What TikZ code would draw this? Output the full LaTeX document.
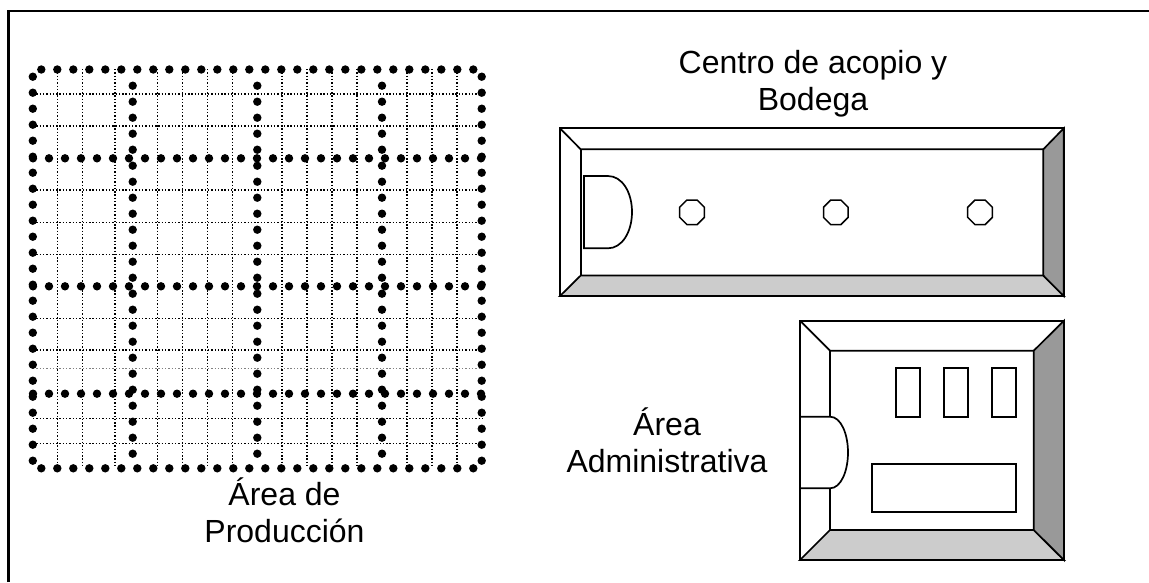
\documentclass[tikz,border=0pt]{standalone}
\usepackage{fontspec}
\setmainfont{Liberation Sans}
\usetikzlibrary{shapes.geometric}
\definecolor{floorlight}{HTML}{CCCCCC}
\definecolor{floordark}{HTML}{999999}
\tikzset{
  wall/.style={draw=black, line width=1.7pt, line join=miter},
  gridline/.style={draw=black, line width=1.4pt, dash pattern=on 1.4pt off 1.9pt},
  fence/.style={fill=black},
  machine/.style={regular polygon, regular polygon sides=8, draw=black, line width=1.5pt, minimum size=26.6pt, inner sep=0pt, fill=white},
  areatext/.style={align=center, font=\fontsize{32}{37}\selectfont, inner sep=0pt}
}
\begin{document}
\begin{tikzpicture}[x=1pt, y=-1pt]
  \useasboundingbox (0,0) rectangle (1149,582);

  % frame
  \draw[line width=2.6pt] (8.7,582) -- (8.7,10);
  \draw[line width=1.7pt] (7.4,11) -- (1149,11);

  % production area
  \foreach \x in {57.7,82.7,115,157.7,182.7,207.3,232.3,282,307,332,357,407,432,457}
    \draw[gridline] (\x,69) -- (\x,468);
  \foreach \y in {94,126,190,222.5,254.3,318.3,350,418.3,443.5}
    \draw[gridline] (33,\y) -- (482,\y);
  \draw[gridline, draw=gray, line width=1pt] (33,368.5) -- (482,368.5);

  \foreach \k in {0,...,27} {
    \fill[fence] (41.3+16*\k,69.5) circle (4.2pt);
    \fill[fence] (41.3+16*\k,468.3) circle (4.2pt);
  }
  \foreach \k in {0,...,24} {
    \fill[fence] (32.8,76.7+16*\k) circle (4.2pt);
    \fill[fence] (481.7,76.7+16*\k) circle (4.2pt);
  }
  \foreach \y in {158.3,286.3,393.7}
    \foreach \k in {0,...,28}
      \fill[fence] (33+16*\k,\y) circle (4.2pt);
  \foreach \x in {132.7,257.3,382}
    \foreach \k in {0,...,23}
      \fill[fence] (\x,85.7+16*\k) circle (4.2pt);

  \node[areatext] (produccion) at (284.5,510) {Área de\\Producción};

  % warehouse
  \coordinate (b-nw) at (560,128.3);
  \coordinate (b-ne) at (1063.7,128.3);
  \coordinate (b-se) at (1063.7,296);
  \coordinate (b-sw) at (560,296);
  \coordinate (bi-nw) at (580.7,149.3);
  \coordinate (bi-ne) at (1043.3,149.3);
  \coordinate (bi-se) at (1043.3,275.5);
  \coordinate (bi-sw) at (580.7,275.5);
  \draw[wall, fill=white] (b-nw) -- (b-ne) -- (b-se) -- (b-sw) -- cycle;
  \draw[wall, fill=floorlight] (bi-sw) -- (bi-se) -- (b-se) -- (b-sw) -- cycle;
  \draw[wall, fill=floordark] (bi-ne) -- (b-ne) -- (b-se) -- (bi-se) -- cycle;
  \draw[wall] (b-nw) -- (bi-nw) -- (bi-ne);
  \draw[wall] (bi-nw) -- (bi-sw);
  \draw[wall, fill=white] (584,176) -- (608,176) .. controls (622,176) and (632,192) .. (632,212)
    .. controls (632,232) and (622,248.3) .. (608,248.3) -- (584,248.3) -- cycle;
  \node[machine] (machine-a) at (692,212.3) {};
  \node[machine] (machine-b) at (835.8,212.3) {};
  \node[machine] (machine-c) at (980,212.3) {};
  \node[areatext] (bodega) at (813,84) {Centro de acopio y\\Bodega};

  % offices
  \coordinate (a-nw) at (800,320.7);
  \coordinate (a-ne) at (1064,320.7);
  \coordinate (a-se) at (1064,560);
  \coordinate (a-sw) at (800,560);
  \coordinate (ai-nw) at (830,350.7);
  \coordinate (ai-ne) at (1033.7,350.7);
  \coordinate (ai-se) at (1033.7,530);
  \coordinate (ai-sw) at (830,530);
  \draw[wall, fill=white] (a-nw) -- (a-ne) -- (a-se) -- (a-sw) -- cycle;
  \draw[wall, fill=floorlight] (ai-sw) -- (ai-se) -- (a-se) -- (a-sw) -- cycle;
  \draw[wall, fill=floordark] (ai-ne) -- (a-ne) -- (a-se) -- (ai-se) -- cycle;
  \draw[wall] (a-nw) -- (ai-nw) -- (ai-ne);
  \draw[wall] (ai-nw) -- (ai-sw);
  \draw[wall, fill=white] (800,416.7) -- (830,416.7) .. controls (841,416.7) and (848,434) .. (848,452.5)
    .. controls (848,471) and (841,488.3) .. (830,488.3) -- (800,488.3) -- cycle;
  \draw[wall] (895.7,368.3) rectangle (920,416.7);
  \draw[wall] (943.7,368.3) rectangle (968.3,416.7);
  \draw[wall] (991.7,368.3) rectangle (1016.3,416.7);
  \draw[wall] (871.7,464.3) rectangle (1016,512.3);
  \node[areatext] (administrativa) at (667,440) {Área\\Administrativa};
\end{tikzpicture}
\end{document}
